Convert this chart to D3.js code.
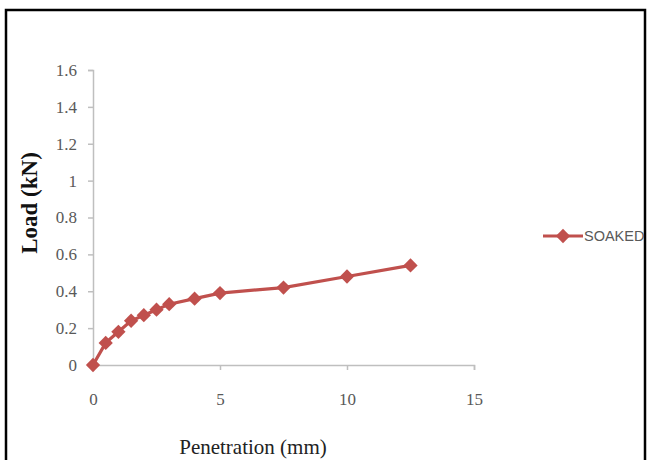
<!DOCTYPE html>
<html>
<head>
<meta charset="utf-8">
<script src="https://cdn.jsdelivr.net/npm/d3@7"></script>
<style>
  body { margin: 0; background: #fff; }
  svg { display: block; }
</style>
</head>
<body>
<svg id="chart" width="649" height="460"></svg>
<script>
// CBR test, soaked sample
const penetration = [0, 0.5, 1, 1.5, 2, 2.5, 3, 4, 5, 7.5, 10, 12.5]
const load = [0, 0.12, 0.18, 0.24, 0.27, 0.30, 0.33, 0.36, 0.39, 0.42, 0.48, 0.54]
const seriesName = 'SOAKED'
const xTicks = [0, 5, 10, 15]
const yTicks = [0, 0.2, 0.4, 0.6, 0.8, 1, 1.2, 1.4, 1.6]

const red = '#c0504d'
const margin = { top: 70, right: 175, bottom: 95, left: 93 }
const width = 474 - margin.left
const height = 365 - margin.top

const svg = d3.select('#chart')

// frame around the whole figure
svg.append('rect')
    .attr('x', 6).attr('y', 10)
    .attr('width', 639).attr('height', 470)
    .attr('fill', 'none')
    .attr('stroke', '#000')
    .attr('stroke-width', 2.5)

const g = svg.append('g')
    .attr('transform', `translate(${margin.left},${margin.top})`)

const x = d3.scaleLinear().domain([0, 15]).range([0, width])
const y = d3.scaleLinear().domain([0, 1.6]).range([height, 0])

const xAxis = d3.axisBottom(x)
    .tickValues(xTicks)
    .tickSize(5)
    .tickPadding(23)
    .tickFormat(d3.format('d'))

const yAxis = d3.axisLeft(y)
    .tickValues(yTicks)
    .tickSize(5)
    .tickPadding(11)
    .tickFormat(d => d === 0 || d === 1 ? d3.format('d')(d) : d3.format('.1f')(d))

const gx = g.append('g')
    .attr('transform', `translate(0,${height})`)
    .call(xAxis)

const gy = g.append('g').call(yAxis)

;[gx, gy].forEach(a => {
    a.select('.domain').attr('stroke', '#bfbfbf').attr('stroke-width', 1.5)
    a.selectAll('.tick line').attr('stroke', '#bfbfbf').attr('stroke-width', 1.5)
    a.selectAll('.tick text')
        .attr('fill', '#595959')
        .style('font-family', '"Liberation Serif", "DejaVu Serif", serif')
        .style('font-size', '17px')
})

// axis titles
g.append('text')
    .attr('x', 160)
    .attr('y', height + 89)
    .attr('text-anchor', 'middle')
    .style('font-family', '"Liberation Serif", serif')
    .style('font-size', '21px')
    .attr('fill', '#222')
    .text('Penetration (mm)')

svg.append('text')
    .attr('transform', 'translate(37,203) rotate(-90)')
    .attr('text-anchor', 'middle')
    .style('font-family', '"Liberation Serif", serif')
    .style('font-weight', 'bold')
    .style('font-size', '23px')
    .attr('fill', '#111')
    .text('Load (kN)')

const data = penetration.map((p, i) => ({ p, l: load[i] }))

const line = d3.line()
    .x(d => x(d.p))
    .y(d => y(d.l))

g.append('path')
    .datum(data)
    .attr('fill', 'none')
    .attr('stroke', red)
    .attr('stroke-width', 3.2)
    .attr('d', line)

const diamond = d3.symbol().type(d3.symbolDiamond2).size(130)

g.selectAll('.pt')
    .data(data)
    .enter()
    .append('path')
    .attr('class', 'pt')
    .attr('transform', d => `translate(${x(d.p)},${y(d.l)})`)
    .attr('d', diamond)
    .attr('fill', red)

// legend
const lg = svg.append('g').attr('transform', 'translate(543,236)')
lg.append('line')
    .attr('x1', 0).attr('x2', 40)
    .attr('stroke', red).attr('stroke-width', 3)
lg.append('path')
    .attr('transform', 'translate(20,0)')
    .attr('d', diamond)
    .attr('fill', red)
lg.append('text')
    .attr('x', 41)
    .attr('dy', '0.35em')
    .style('font-family', '"Liberation Sans Narrow", "Liberation Sans", sans-serif')
    .style('font-size', '14.5px')
    .attr('fill', '#595959')
    .text(seriesName)
</script>
</body>
</html>
